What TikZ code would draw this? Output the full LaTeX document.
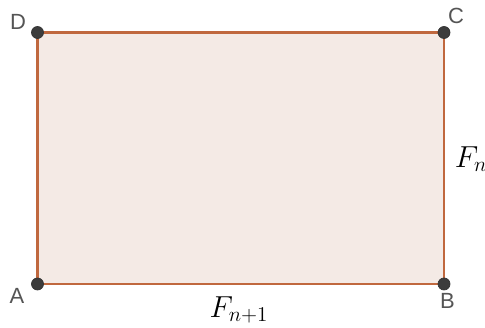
\documentclass[tikz,border=0pt]{standalone}
\usepackage{amsmath,amssymb}
\usepackage{fontspec}
\setsansfont{Liberation Sans}
\usetikzlibrary{positioning}
\definecolor{sideorange}{RGB}{192,104,62}
\definecolor{facepink}{RGB}{244,234,229}
\definecolor{pointgray}{RGB}{60,60,60}
\definecolor{labelgray}{RGB}{85,85,85}

\tikzset{
    pointdot/.style={circle, fill=pointgray, draw=black!80, inner sep=0pt, minimum size=0.24cm},
    pointlabel/.style={font=\sffamily\fontsize{12.5}{14}\selectfont, text=labelgray, inner sep=0pt},
    sidelabel/.style={font=\fontsize{17.5}{20}\selectfont, inner sep=0pt}
}

\begin{document}
\begin{tikzpicture}
    \useasboundingbox (0,0) rectangle (9.7,-6.56);
    \coordinate (A) at (0.75,-5.68);
    \coordinate (B) at (8.88,-5.68);
    \coordinate (C) at (8.88,-0.65);
    \coordinate (D) at (0.75,-0.65);
    % the rectangle
    \draw[sideorange, line width=1.6pt, fill=facepink] (A) -- (B) -- (C) -- (D) -- cycle;
    % corners
    \node[pointdot] (pa) at (A) {};
    \node[pointdot] (pb) at (B) {};
    \node[pointdot] (pc) at (C) {};
    \node[pointdot] (pd) at (D) {};
    \node[pointlabel] (la) at (0.34,-5.92) {A};
    \node[pointlabel] (lb) at (8.95,-6.02) {B};
    \node[pointlabel] (lc) at (9.12,-0.32) {C};
    \node[pointlabel] (ld) at (0.36,-0.44) {D};
    % side lengths
    \node[sidelabel] (fn) at (9.42,-3.18) {$F_n$};
    \node[sidelabel] (fn1) at (4.78,-6.2) {$F_{n+1}$};
\end{tikzpicture}
\end{document}
